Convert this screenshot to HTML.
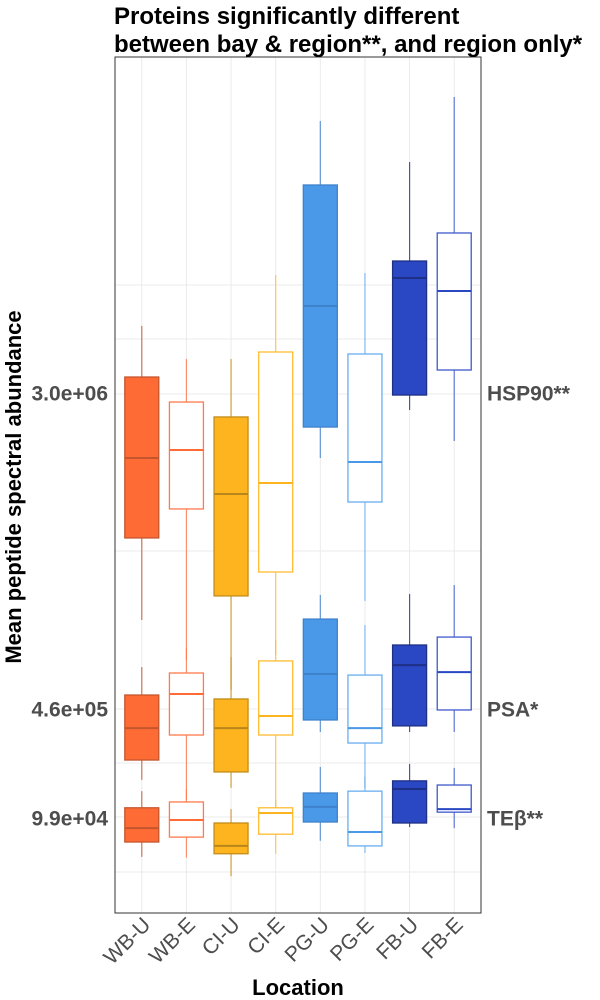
<!DOCTYPE html>
<html><head><meta charset="utf-8"><style>
body{margin:0;background:#fff;}
svg{display:block;font-family:"Liberation Sans",sans-serif;}
</style></head><body>
<svg id="chart" width="600" height="1000"></svg>
<script>
const categories=["WB-U","WB-E","CI-U","CI-E","PG-U","PG-E","FB-U","FB-E"];
// values in thousands: [low, q1, median, q3, high]
const hsp90=[[954,1563,2300,3192,3829],[711,1814,2382,2901,3410],[553,1117,1951,2734,3410],[740,1292,2054,3497,4523],[2300,2624,4094,5889,6970],[1082,1877,2260,3472,4551],[2811,2981,4480,4723,6267],[2475,3276,4299,5138,7398]];
const psa=[[197,260,380,528,672],[142,352,533,640,780],[174,221,380,509,728],[123,352,431,706,828],[364,414,635,960,1124],[174,321,380,629,922],[364,389,683,798,1131],[364,458,645,846,1195]];
const teb=[[35,56,80,123,165],[34,64,96,137,171],[15,39,50,90,120],[39,69,111,123,142],[58,92,125,160,237],[40,50,73,165,206],[82,90,171,194,247],[80,113,120,182,234]];
const tickValues=[3000,460,99];
const tickLabels=["3.0e+06","4.6e+05","9.9e+04"];
const proteinLabels=["HSP90**","PSA*","TEβ**"];
const proteinRef=[3000,460,99];

const NS="http://www.w3.org/2000/svg";
const svg=document.getElementById('chart');
const L=115,R=481,T=57,B=913;
function yS(v){return 913-0.3*Math.sqrt(v*1000);}
function xS(i){return L+(i+0.6)*(R-L)/8.2;}
function mk(tag,attrs,parent){const e=document.createElementNS(NS,tag);for(const k in attrs)e.setAttribute(k,attrs[k]);(parent||svg).appendChild(e);return e;}
const fills=["#FF6B35","#fff","#FDB41E","#fff","#4A98E8","#fff","#2A48C4","#fff"];
const strokes=["#C4562E","#FF7A4C","#C48C18","#FFBC33","#3F82CC","#69ADF0","#1E2F86","#3F5ACC"];
const medians=["#C4562E","#FF6B35","#B8861A","#FDB41E","#3F82CC","#4A98E8","#1E2F86","#2A48C4"];

[285,339,394,551,709,763,817,872].forEach(y=>{
  const g=mk('line',{x1:L,x2:R,y1:y,y2:y,stroke:'#ebebeb','stroke-width':1});
  
  
});
categories.forEach((c,i)=>{
  const g=mk('line',{x1:xS(i),x2:xS(i),y1:T,y2:B,stroke:'#ebebeb','stroke-width':1});
  
  
});

const bw=34;
[["hsp90",hsp90],["psa",psa],["teb",teb]].forEach(([pname,data])=>{
  data.forEach((d,i)=>{
    const x=xS(i);
    const g=mk('g',{});
    
    
    mk('line',{x1:x,x2:x,y1:yS(d[0]),y2:yS(d[1]),stroke:strokes[i],'stroke-width':1.2,'stroke-opacity':0.8},g);
    mk('line',{x1:x,x2:x,y1:yS(d[3]),y2:yS(d[4]),stroke:strokes[i],'stroke-width':1.2,'stroke-opacity':0.8},g);
    mk('rect',{x:x-bw/2,y:yS(d[3]),width:bw,height:yS(d[1])-yS(d[3]),fill:fills[i],stroke:strokes[i],'stroke-width':1.3},g);
    mk('line',{x1:x-bw/2,x2:x+bw/2,y1:yS(d[2]),y2:yS(d[2]),stroke:medians[i],'stroke-width':2},g);
  });
});

const frame=mk('rect',{x:L,y:T,width:R-L,height:B-T,fill:'none',stroke:'#333','stroke-width':1});



tickValues.forEach((v,i)=>{
  const t=mk('text',{x:108,y:yS(v)+7,'text-anchor':'end','font-size':21,'font-weight':'bold',fill:'#4d4d4d'});
  t.textContent=tickLabels[i];
  
  
});
proteinLabels.forEach((p,i)=>{
  const t=mk('text',{x:487,y:yS(proteinRef[i])+7,'font-size':21,'font-weight':'bold',fill:'#4d4d4d'});
  t.textContent=p;
  
  
});
categories.forEach((c,i)=>{
  const x=xS(i)+10,y=926;
  const t=mk('text',{x:x,y:y,'text-anchor':'end','font-size':21,fill:'#4d4d4d',transform:`rotate(-45 ${x} ${y})`});
  t.textContent=c;
  
  
});
</script>
<svg style="position:absolute;left:0;top:0" width="600" height="1000">
<text x="114" y="24" font-size="24" font-weight="bold" fill="#000" font-family="Liberation Sans, sans-serif">Proteins significantly different</text>
<text x="114" y="52" font-size="24" font-weight="bold" fill="#000" font-family="Liberation Sans, sans-serif">between bay &amp; region**, and region only*</text>
<text x="0" y="0" transform="translate(21 487) rotate(-90)" text-anchor="middle" font-size="22" font-weight="bold" fill="#000" font-family="Liberation Sans, sans-serif">Mean peptide spectral abundance</text>
<text x="298" y="995" text-anchor="middle" font-size="22" font-weight="bold" fill="#000" font-family="Liberation Sans, sans-serif">Location</text>
</svg>
</body></html>
